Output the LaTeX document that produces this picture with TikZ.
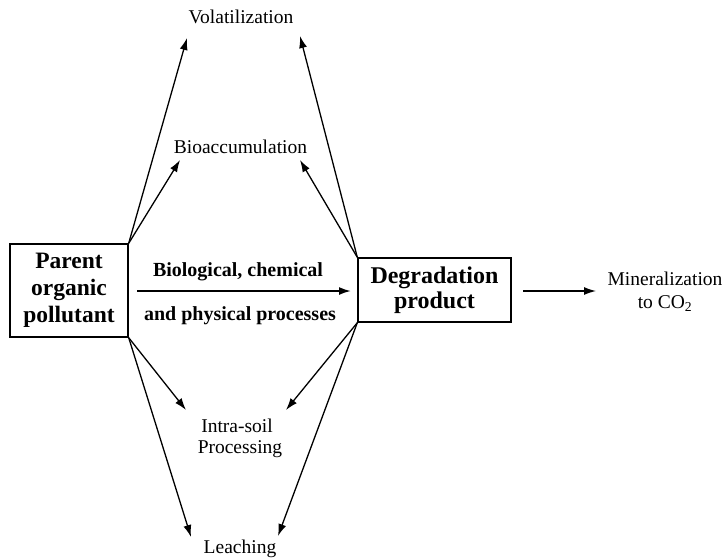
\documentclass[tikz,border=0pt]{standalone}
\usepackage{fontspec}
\setmainfont{Liberation Serif}
\usetikzlibrary{arrows.meta}
\begin{document}
\begin{tikzpicture}[x=1pt,y=-1pt,
  lbl/.style={inner sep=0pt,anchor=base,font=\fontsize{19.5}{22}\selectfont},
  blbl/.style={inner sep=0pt,anchor=base,font=\fontsize{20}{22}\selectfont\bfseries},
  boxnode/.style={draw,line width=1.4pt,inner sep=0pt,align=center,font=\fontsize{23.5}{26}\selectfont\bfseries},
  arr/.style={line width=1.3pt,-{Latex[length=12pt,width=8pt]}}]
\useasboundingbox (0,0) rectangle (726,558);
% boxes
\node[boxnode,minimum width=118pt,minimum height=93pt] (P) at (69,290.5) {Parent\\[1pt]organic\\[1pt]pollutant};
\node[boxnode,minimum width=153pt,minimum height=64pt,font=\fontsize{24}{25}\selectfont\bfseries] (D) at (434.5,290) {Degradation\\product};
% labels
\node[lbl] (vol) at (241,23) {Volatilization};
\node[lbl] (bio) at (240.5,153) {Bioaccumulation};
\node[lbl] (intra) at (237,432) {Intra-soil};
\node[lbl] (proc) at (240,453) {Processing};
\node[lbl] (leach) at (240,553) {Leaching};
\node[lbl] (min) at (665,285) {Mineralization};
\node[lbl] (co) at (665,308) {to CO\textsubscript{2}};
\node[blbl] (b1) at (238,276) {Biological, chemical};
\node[blbl] (b2) at (240,320) {and physical processes};
% tip coordinates
\coordinate (tvl) at (187,38);
\coordinate (tvr) at (300,36);
\coordinate (tbl) at (180,160);
\coordinate (tbr) at (300,160);
\coordinate (til) at (186,410);
\coordinate (tir) at (286,410);
\coordinate (tll) at (191,537);
\coordinate (tlr) at (278,536);
\coordinate (ms) at (137,291);
\coordinate (me) at (351,291);
\coordinate (ns) at (523,291);
\coordinate (ne) at (596,291);
% arrows
\draw[arr] (P.north east) -- (tvl);
\draw[arr] (P.north east) -- (tbl);
\draw[arr] (P.south east) -- (til);
\draw[arr] (P.south east) -- (tll);
\draw[arr] (D.north west) -- (tvr);
\draw[arr] (D.north west) -- (tbr);
\draw[arr] (D.south west) -- (tir);
\draw[arr] (D.south west) -- (tlr);
\draw[arr,line width=1.8pt] (ms) -- (me);
\draw[arr] (ns) -- (ne);
\end{tikzpicture}
\end{document}
